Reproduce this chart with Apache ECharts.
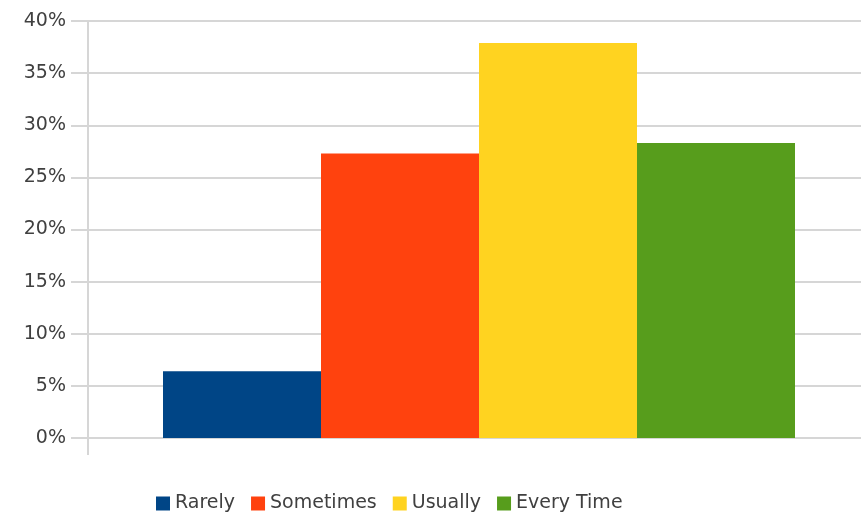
<!DOCTYPE html>
<html><head><meta charset="utf-8">
<script src="https://cdn.jsdelivr.net/npm/echarts@6/dist/echarts.min.js"></script>
<style>html,body{margin:0;padding:0;background:#fff;overflow:hidden}#c{width:870px;height:517px}</style>
</head><body><div id="c"></div>
<script>
const categories = [''];
const seriesNames = ['Rarely', 'Sometimes', 'Usually', 'Every Time'];
const seriesValues = [6.4, 27.3, 37.9, 28.3];
const seriesColors = ['#004586', '#ff420e', '#ffd320', '#579d1c'];
const yTicks = {min: 0, max: 40, interval: 5};

const font = 'DejaVu Sans';
const chart = echarts.init(document.getElementById('c'), null, {renderer: 'canvas'});
chart.setOption({
  animation: false,
  backgroundColor: '#fff',
  color: seriesColors,
  grid: {left: 88, right: 0, top: 21, bottom: 79, containLabel: false},
  legend: {
    data: seriesNames, left: 151, top: 489, itemWidth: 14, itemHeight: 14, itemGap: 16,
    icon: 'rect', textStyle: {fontFamily: font, fontSize: 19, color: '#404040'}
  },
  xAxis: {
    type: 'category', data: categories,
    axisLine: {show: true, lineStyle: {color: '#d6d6d6', width: 2}},
    axisTick: {show: true, length: 17, lineStyle: {color: '#d6d6d6', width: 2}},
    axisLabel: {show: false}
  },
  yAxis: {
    type: 'value', min: yTicks.min, max: yTicks.max, interval: yTicks.interval,
    axisLine: {show: true, lineStyle: {color: '#d6d6d6', width: 2}},
    axisTick: {show: true, length: 17, lineStyle: {color: '#d6d6d6', width: 2}},
    splitLine: {show: true, lineStyle: {color: '#d6d6d6', width: 2}},
    axisLabel: {formatter: '{value}%', fontFamily: font, fontSize: 19, color: '#404040', margin: 22}
  },
  series: seriesNames.map((n, i) => ({
    name: n, type: 'bar', data: [seriesValues[i]], barGap: '0%', barWidth: 158,
    itemStyle: {color: seriesColors[i]}
  }))
});
</script></body></html>
